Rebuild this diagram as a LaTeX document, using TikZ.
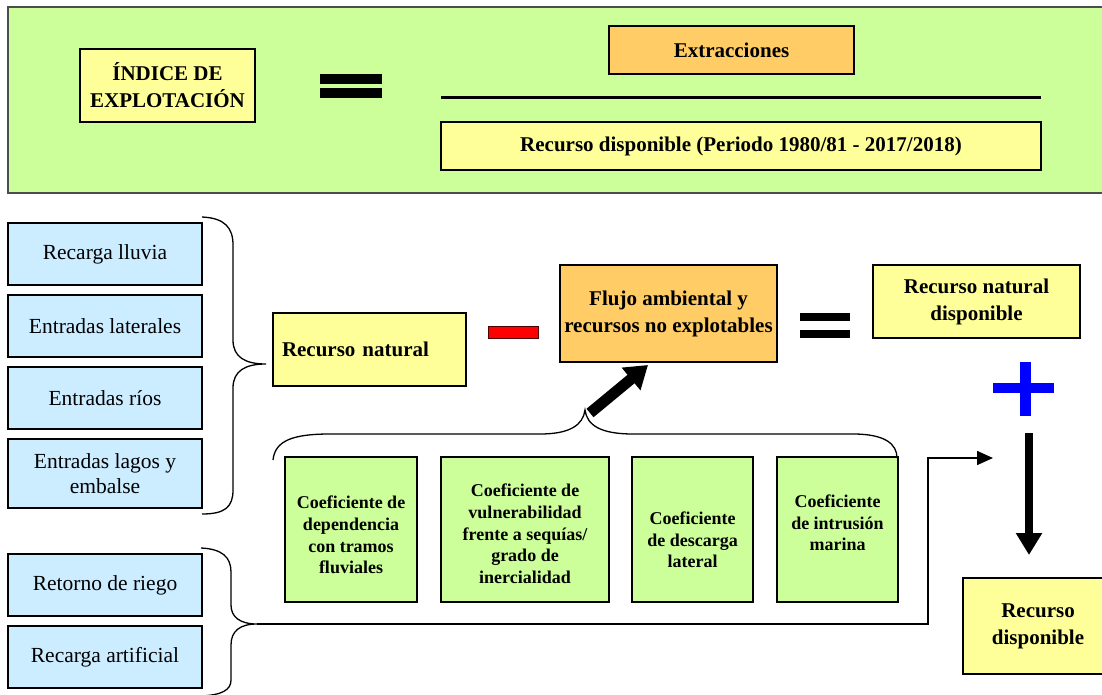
\documentclass[tikz,border=0pt]{standalone}
\usepackage{fontspec}
\setmainfont{Liberation Serif}
\usetikzlibrary{arrows.meta}
\definecolor{panelgreen}{HTML}{CCFF99}
\definecolor{lightyellow}{HTML}{FFFF99}
\definecolor{orangebox}{HTML}{FFCC66}
\definecolor{lightblue}{HTML}{CCECFF}
\definecolor{panelborder}{HTML}{4D4D4D}
\definecolor{minusred}{HTML}{FF0000}
\definecolor{plusblue}{HTML}{0000FF}
\tikzset{
  box/.style={draw=black, line width=1.5pt, inner sep=0pt, align=center},
  bigbold/.style={font=\fontsize{21}{27}\selectfont\bfseries},
  bluetxt/.style={font=\fontsize{21.5}{25}\selectfont},
  gtxt/.style={font=\fontsize{18}{21.7}\selectfont\bfseries, align=center, inner sep=0pt},
  bluebox/.style={box, fill=lightblue, bluetxt, minimum width=194pt},
  greenbox/.style={box, line width=1.8pt, fill=panelgreen, minimum height=145pt},
  bracepath/.style={draw=black, line width=1.3pt},
  thinarrow/.style={draw=black, line width=1.5pt, -{Triangle[length=16pt,width=14pt]}},
  fatarrow/.style={draw=black, line width=11pt, -{Triangle[length=22pt,width=28pt]}},
  downarrow/.style={draw=black, line width=8pt, -{Triangle[length=22pt,width=25pt]}},
}
\begin{document}
\begin{tikzpicture}[x=1pt,y=-1pt]
\useasboundingbox (0,0) rectangle (1102,695);
\fill[white] (0,0) rectangle (1102,695);
\clip (0,0) rectangle (1102,695);

% top panel
\node[draw=panelborder, line width=2pt, fill=panelgreen, inner sep=0pt,
      minimum width=1102pt, minimum height=186pt] (panel) at (559,100) {};
\node[box, fill=lightyellow, bigbold, minimum width=175pt, minimum height=73pt] (indice) at (167.5,85.5) {ÍNDICE DE\\EXPLOTACIÓN};
\fill[black] (320,74) rectangle (382,84);
\fill[black] (320,88) rectangle (382,98);
\node[box, fill=orangebox, bigbold, minimum width=245pt, minimum height=48pt] (extr) at (731.5,50) {Extracciones};
\draw[line width=3.5pt] (441,97.5) -- (1041,97.5);
\node[box, fill=lightyellow, bigbold, minimum width=600pt, minimum height=48pt] (recdisp) at (741,146) {Recurso disponible (Periodo 1980/81 - 2017/2018)};

% left blue boxes
\node[bluebox, minimum height=62pt] (b1) at (105,254) {Recarga lluvia};
\node[bluebox, minimum height=62pt] (b2) at (105,326) {Entradas laterales};
\node[bluebox, minimum height=62pt] (b3) at (105,398) {Entradas ríos};
\node[bluebox, minimum height=69pt] (b4) at (105,473.5) {Entradas lagos y\\embalse};
\node[bluebox, minimum height=62pt] (b5) at (105,585) {Retorno de riego};
\node[bluebox, minimum height=62pt] (b6) at (105,657) {Recarga artificial};

% brace 1
\coordinate (b1tip) at (266,364);
\draw[bracepath] (202,217) .. controls (225,218) and (233,228) .. (233,245) -- (233,340)
  .. controls (233,357) and (245,364) .. (b1tip)
  .. controls (245,364) and (233,371) .. (233,388) -- (233,490)
  .. controls (233,507) and (225,514) .. (202,514);

% brace 2
\coordinate (b2tip) at (257,624);
\draw[bracepath] (201,548) .. controls (222,549) and (231,557) .. (231,572) -- (231,605)
  .. controls (231,617) and (240,624) .. (b2tip)
  .. controls (240,624) and (231,631) .. (231,645) -- (231,680)
  .. controls (231,690) and (222,695) .. (201,696);

% central row
\node[box, fill=lightyellow, bigbold, minimum width=193pt, minimum height=73pt, text width=175pt, align=left] (recnat) at (369.5,349.5) {Recurso natural};
\node[draw=black!70!red, line width=1pt, fill=minusred, inner sep=0pt, minimum width=50pt, minimum height=12pt] (minus) at (513,332) {};
\node[box, fill=orangebox, bigbold, minimum width=217pt, minimum height=97pt] (flujo) at (668.5,313.5) {Flujo ambiental y\\recursos no explotables};
\fill[black] (800,313) rectangle (850,321);
\fill[black] (800,330) rectangle (850,338);
\node[box, fill=lightyellow, bigbold, minimum width=207pt, minimum height=73pt] (recnatdisp) at (976.5,301.5) {Recurso natural\\disponible};

% plus
\fill[plusblue] (993,383) rectangle (1054,393);
\fill[plusblue] (1020,362) rectangle (1031,416);

% down arrow and result
\coordinate (downstart) at (1029,433);
\coordinate (downend) at (1029,555);
\draw[downarrow] (downstart) -- (downend);
\node[box, fill=lightyellow, bigbold, minimum width=150pt, minimum height=96pt] (recdisp2) at (1038,626) {Recurso\\disponible};

% green boxes
\node[greenbox, minimum width=132pt] (g1) at (351,529.5) {};
\node[greenbox, minimum width=168pt] (g2) at (525,529.5) {};
\node[greenbox, minimum width=121pt] (g3) at (692.5,529.5) {};
\node[greenbox, minimum width=121pt] (g4) at (837.5,529.5) {};
\node[gtxt] (g1t) at (351,535) {Coeficiente de\\dependencia\\con tramos\\fluviales};
\node[gtxt] (g2t) at (525,534) {Coeficiente de\\vulnerabilidad\\frente a sequías/\\grado de\\inercialidad};
\node[gtxt] (g3t) at (692.5,540) {Coeficiente\\de descarga\\lateral};
\node[gtxt] (g4t) at (837.5,523) {Coeficiente\\de intrusión\\marina};

% brace 3 (horizontal)
\coordinate (b3tip) at (585,410);
\draw[bracepath] (273,460) .. controls (275,441) and (292,434) .. (330,434) -- (540,434)
  .. controls (570,434) and (583,425) .. (b3tip)
  .. controls (587,425) and (600,434) .. (633,434) -- (853,434)
  .. controls (885,434) and (897,444) .. (897,458);

% arrows
\coordinate (b3start) at (590,413);
\coordinate (flujoin) at (648,365);
\draw[fatarrow] (b3start) -- (flujoin);
\coordinate (bend) at (928,624);
\coordinate (arrend) at (993,458);
\draw[thinarrow] (b2tip) -- (bend) |- (arrend);
\end{tikzpicture}
\end{document}
